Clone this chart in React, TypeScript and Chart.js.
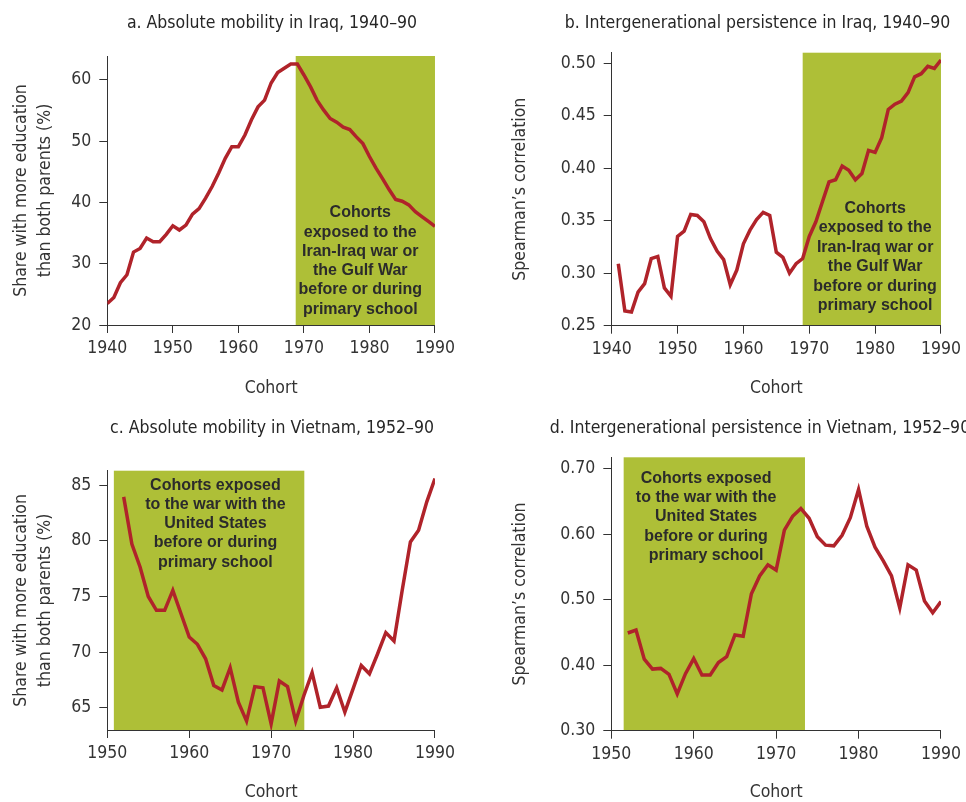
import React, { useEffect, useRef } from "react";
import { Chart, registerables } from "chart.js";

Chart.register(...registerables);

// ---------- DATA ----------
const iraqMobilityYears = [
  1940, 1941, 1942, 1943, 1944, 1945, 1946, 1947, 1948, 1949,
  1950, 1951, 1952, 1953, 1954, 1955, 1956, 1957, 1958, 1959,
  1960, 1961, 1962, 1963, 1964, 1965, 1966, 1967, 1968, 1969,
  1970, 1971, 1972, 1973, 1974, 1975, 1976, 1977, 1978, 1979,
  1980, 1981, 1982, 1983, 1984, 1985, 1986, 1987, 1988, 1989, 1990,
];
const iraqMobility = [
  23.5, 24.5, 26.9, 28.2, 31.9, 32.5, 34.2, 33.6, 33.6, 34.8,
  36.2, 35.5, 36.3, 38.1, 39.0, 40.7, 42.6, 44.8, 47.2, 49.1,
  49.1, 51.0, 53.5, 55.6, 56.7, 59.5, 61.2, 61.9, 62.6, 62.6,
  60.8, 58.9, 56.7, 55.1, 53.7, 53.1, 52.3, 51.9, 50.7, 49.6,
  47.5, 45.6, 43.9, 42.1, 40.5, 40.2, 39.6, 38.5, 37.7, 36.9, 36.1,
];

const iraqPersistenceYears = [
  1941, 1942, 1943, 1944, 1945, 1946, 1947, 1948, 1949,
  1950, 1951, 1952, 1953, 1954, 1955, 1956, 1957, 1958, 1959,
  1960, 1961, 1962, 1963, 1964, 1965, 1966, 1967, 1968, 1969,
  1970, 1971, 1972, 1973, 1974, 1975, 1976, 1977, 1978, 1979,
  1980, 1981, 1982, 1983, 1984, 1985, 1986, 1987, 1988, 1989, 1990,
];
const iraqPersistence = [
  0.309, 0.264, 0.263, 0.282, 0.290, 0.314, 0.316, 0.286, 0.278,
  0.335, 0.340, 0.356, 0.355, 0.349, 0.333, 0.321, 0.313, 0.289, 0.303,
  0.328, 0.341, 0.351, 0.358, 0.355, 0.320, 0.315, 0.300, 0.309, 0.314,
  0.335, 0.349, 0.368, 0.387, 0.389, 0.402, 0.398, 0.389, 0.395, 0.417,
  0.415, 0.429, 0.456, 0.461, 0.464, 0.472, 0.487, 0.490, 0.497, 0.495, 0.503,
];

const vietnamYears = [
  1952, 1953, 1954, 1955, 1956, 1957, 1958, 1959,
  1960, 1961, 1962, 1963, 1964, 1965, 1966, 1967, 1968, 1969,
  1970, 1971, 1972, 1973, 1974, 1975, 1976, 1977, 1978, 1979,
  1980, 1981, 1982, 1983, 1984, 1985, 1986, 1987, 1988, 1989, 1990,
];
const vietnamMobility = [
  83.95, 79.7, 77.65, 75.0, 73.75, 73.75, 75.55, 73.45,
  71.35, 70.7, 69.4, 67.0, 66.6, 68.6, 65.5, 63.8, 66.9, 66.8,
  63.55, 67.4, 66.9, 63.8, 66.1, 68.15, 65.05, 65.15, 66.8, 64.6,
  66.7, 68.8, 68.05, 69.85, 71.75, 71.0, 75.55, 79.9, 80.95, 83.5, 85.6,
];
const vietnamPersistence = [
  0.449, 0.4535, 0.409, 0.394, 0.395, 0.386, 0.356, 0.387,
  0.410, 0.385, 0.385, 0.404, 0.413, 0.446, 0.444, 0.509, 0.536, 0.553,
  0.545, 0.606, 0.627, 0.639, 0.624, 0.596, 0.583, 0.582, 0.598, 0.625,
  0.668, 0.612, 0.580, 0.559, 0.536, 0.487, 0.553, 0.545, 0.498, 0.480, 0.497,
];

// Shaded war-exposure windows (cohort years)
const iraqShadeA = [1968.75, 1990];
const iraqShadeB = [1969, 1990];
const vietnamShadeC = [1950.8, 1974.05];
const vietnamShadeD = [1951.5, 1973.5];

// Tick values
const iraqXTicks = [1940, 1950, 1960, 1970, 1980, 1990];
const vietnamXTicks = [1950, 1960, 1970, 1980, 1990];
const mobilityIraqYTicks = [20, 30, 40, 50, 60];
const persistenceIraqYTicks = [0.25, 0.3, 0.35, 0.4, 0.45, 0.5];
const mobilityVietnamYTicks = [65, 70, 75, 80, 85];
const persistenceVietnamYTicks = [0.3, 0.4, 0.5, 0.6, 0.7];

// Text
const titles = [
  "a. Absolute mobility in Iraq, 1940\u201390",
  "b. Intergenerational persistence in Iraq, 1940\u201390",
  "c. Absolute mobility in Vietnam, 1952\u201390",
  "d. Intergenerational persistence in Vietnam, 1952\u201390",
];
const mobilityAxisTitle = ["Share with more education", "than both parents (%)"];
const persistenceAxisTitle = "Spearman\u2019s correlation";
const xAxisTitle = "Cohort";
const iraqNote = [
  "Cohorts",
  "exposed to the",
  "Iran-Iraq war or",
  "the Gulf War",
  "before or during",
  "primary school",
];
const vietnamNote = [
  "Cohorts exposed",
  "to the war with the",
  "United States",
  "before or during",
  "primary school",
];

// ---------- STYLE ----------
const FONT = "'Liberation Sans Narrow', 'Arial Narrow', 'DejaVu Sans Condensed', sans-serif";
const FS = 17.5;
const BOLD_FONT = "'Liberation Sans', Arial, sans-serif";
const TEXT = "#333333";
const AXIS = "#333333";
const LINE = "#b0232a";
const SHADE = "#aebf37";

type PanelCfg = {
  left: number;
  top: number;
  width: number;
  height: number;
  area: { l: number; r: number; t: number; b: number };
  years: number[];
  values: number[];
  shade: number[];
  xMin: number;
  xMax: number;
  yMin: number;
  yMax: number;
  xTicks: number[];
  yTicks: number[];
  yDecimals: number;
  yTitle: string | string[];
  yTitlePad: number;
  xTitlePad: number;
  title: string;
  titleX: number;
  titleBaseline: number;
  note: string[];
  noteX: number;
  noteY: number;
  noteLine: number;
};

function Panel({ cfg }: { cfg: PanelCfg }) {
  const ref = useRef<HTMLCanvasElement | null>(null);
  useEffect(() => {
    if (!ref.current) return;
    const c = cfg;
    const panelPlugin = {
      id: "panelDecor",
      beforeDraw(chart: any) {
        const { ctx, chartArea, scales } = chart;
        const x0 = scales.x.getPixelForValue(c.shade[0]);
        const x1 = scales.x.getPixelForValue(c.shade[1]);
        ctx.save();
        ctx.fillStyle = SHADE;
        ctx.fillRect(x0, chartArea.top, x1 - x0, chartArea.bottom - chartArea.top);
        ctx.restore();
      },
      afterDatasetsDraw(chart: any) {
        const { ctx, scales } = chart;
        ctx.save();
        ctx.fillStyle = "#2b2b2b";
        ctx.font = `bold 16px ${BOLD_FONT}`;
        ctx.textAlign = "center";
        ctx.textBaseline = "middle";
        const nx = scales.x.getPixelForValue(c.noteX);
        const ny = scales.y.getPixelForValue(c.noteY);
        c.note.forEach((line, i) => ctx.fillText(line, nx, ny + i * c.noteLine));
        ctx.restore();
      },
      afterDraw(chart: any) {
        const { ctx } = chart;
        ctx.save();
        ctx.fillStyle = "#262626";
        ctx.font = `${FS}px ${FONT}`;
        ctx.textAlign = "center";
        ctx.textBaseline = "alphabetic";
        ctx.fillText(c.title, c.titleX, c.titleBaseline);
        ctx.restore();
      },
    };

    const chart = new Chart(ref.current, {
      type: "line",
      data: {
        datasets: [
          {
            data: c.years.map((yr, i) => ({ x: yr, y: c.values[i] })),
            borderColor: LINE,
            borderWidth: 3.5,
            pointRadius: 0,
            tension: 0,
            fill: false,
          },
        ],
      },
      options: {
        animation: false,
        responsive: false,
        maintainAspectRatio: false,
        layout: {
          padding: { top: c.area.t, right: c.width - c.area.r, left: 0, bottom: 0 },
        },
        plugins: { legend: { display: false }, tooltip: { enabled: false }, title: { display: false } },
        scales: {
          x: {
            type: "linear",
            min: c.xMin,
            max: c.xMax,
            afterBuildTicks: (s: any) => {
              s.ticks = c.xTicks.map((v) => ({ value: v }));
            },
            afterFit: (s: any) => {
              s.height = c.height - c.area.b;
            },
            ticks: {
              font: { family: FONT, size: FS },
              color: TEXT,
              padding: 5,
              maxRotation: 0,
              autoSkip: false,
              callback: (v: any) => String(v),
            },
            grid: { drawOnChartArea: false, drawTicks: true, tickLength: 8, color: AXIS, lineWidth: 1 },
            border: { display: true, color: AXIS, width: 1 },
            title: {
              display: true,
              text: xAxisTitle,
              color: TEXT,
              font: { family: FONT, size: FS, lineHeight: 1.2 },
              padding: { top: 0, bottom: c.xTitlePad },
            },
          },
          y: {
            type: "linear",
            min: c.yMin,
            max: c.yMax,
            afterBuildTicks: (s: any) => {
              s.ticks = c.yTicks.map((v) => ({ value: v }));
            },
            afterFit: (s: any) => {
              s.width = c.area.l;
            },
            ticks: {
              font: { family: FONT, size: FS },
              color: TEXT,
              padding: 8,
              callback: (v: any) => Number(v).toFixed(c.yDecimals),
            },
            grid: { drawOnChartArea: false, drawTicks: true, tickLength: 8, color: AXIS, lineWidth: 1 },
            border: { display: true, color: AXIS, width: 1 },
            title: {
              display: true,
              text: c.yTitle,
              color: TEXT,
              font: { family: FONT, size: FS, lineHeight: 1.37 },
              padding: { top: c.yTitlePad, bottom: 0 },
            },
          },
        },
      },
      plugins: [panelPlugin],
    } as any);
    return () => chart.destroy();
  }, [cfg]);

  return (
    <canvas
      ref={ref}
      width={cfg.width}
      height={cfg.height}
      style={{ position: "absolute", left: cfg.left, top: cfg.top, width: cfg.width, height: cfg.height }}
    />
  );
}

const panels: PanelCfg[] = [
  {
    left: 0, top: 0, width: 460, height: 402,
    area: { l: 107.3, r: 439.5, t: 56, b: 325 },
    years: iraqMobilityYears, values: iraqMobility, shade: iraqShadeA,
    xMin: 1940, xMax: 1990, yMin: 20, yMax: 63.9,
    xTicks: iraqXTicks, yTicks: mobilityIraqYTicks, yDecimals: 0,
    yTitle: mobilityAxisTitle, yTitlePad: 9, xTitlePad: 3.5,
    title: titles[0], titleX: 272, titleBaseline: 27.5,
    note: iraqNote, noteX: 1978.6, noteY: 38.3, noteLine: 19.3,
  },
  {
    left: 490, top: 0, width: 476, height: 402,
    area: { l: 121.7, r: 453.3, t: 52.7, b: 325.7 },
    years: iraqPersistenceYears, values: iraqPersistence, shade: iraqShadeB,
    xMin: 1940, xMax: 1990, yMin: 0.25, yMax: 0.51,
    xTicks: iraqXTicks, yTicks: persistenceIraqYTicks, yDecimals: 2,
    yTitle: persistenceAxisTitle, yTitlePad: 18, xTitlePad: 3.5,
    title: titles[1], titleX: 267.5, titleBaseline: 27.5,
    note: iraqNote, noteX: 1980, noteY: 0.362, noteLine: 19.5,
  },
  {
    left: 0, top: 400, width: 460, height: 406,
    area: { l: 107.3, r: 439.3, t: 70.7, b: 330 },
    years: vietnamYears, values: vietnamMobility, shade: vietnamShadeC,
    xMin: 1950, xMax: 1990, yMin: 63, yMax: 86.3,
    xTicks: vietnamXTicks, yTicks: mobilityVietnamYTicks, yDecimals: 0,
    yTitle: mobilityAxisTitle, yTitlePad: 9, xTitlePad: 3,
    title: titles[2], titleX: 272, titleBaseline: 32.5,
    note: vietnamNote, noteX: 1963.2, noteY: 85.0, noteLine: 19.3,
  },
  {
    left: 490, top: 400, width: 476, height: 406,
    area: { l: 121.3, r: 452.7, t: 57.3, b: 330.7 },
    years: vietnamYears, values: vietnamPersistence, shade: vietnamShadeD,
    xMin: 1950, xMax: 1990, yMin: 0.3, yMax: 0.717,
    xTicks: vietnamXTicks, yTicks: persistenceVietnamYTicks, yDecimals: 2,
    yTitle: persistenceAxisTitle, yTitlePad: 18, xTitlePad: 3,
    title: titles[3], titleX: 270, titleBaseline: 32.5,
    note: vietnamNote, noteX: 1961.5, noteY: 0.685, noteLine: 19.4,
  },
];

export default function App() {
  return (
    <div
      style={{
        position: "absolute",
        left: 0,
        top: 0,
        width: 966,
        height: 802,
        overflow: "hidden",
        background: "#ffffff",
      }}
    >
      {panels.map((p, i) => (
        <Panel key={i} cfg={p} />
      ))}
    </div>
  );
}
